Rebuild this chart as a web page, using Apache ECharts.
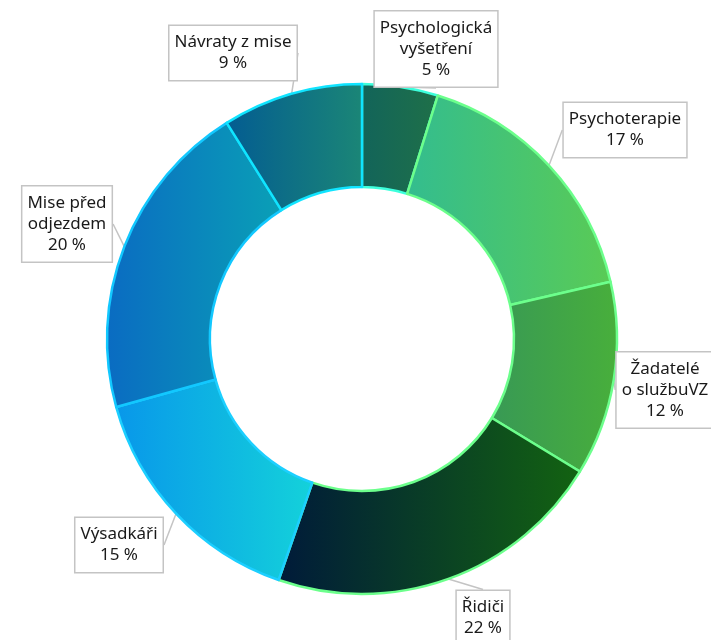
<!DOCTYPE html>
<html>
<head>
<meta charset="utf-8">
<script src="https://cdn.jsdelivr.net/npm/echarts@6/dist/echarts.min.js"></script>
<style>
  html, body { margin: 0; padding: 0; background: #ffffff; }
  #chart { width: 711px; height: 640px; }
</style>
</head>
<body>
<div id="chart"></div>
<script>
// ---- data (shares in %; labels show rounded values) ----
const categories = ['Psychologická\nvyšetření', 'Psychoterapie', 'Žadatelé\no službuVZ', 'Řidiči', 'Výsadkáři', 'Mise před\nodjezdem', 'Návraty z mise'];
const values = [4.8, 16.6, 12.3, 21.6, 15.4, 20.4, 8.9];

// ---- styles (gradient left -> right, border colour) ----
const gradFrom = ['#12645a', '#33bd8f', '#389955', '#001a3a', '#0897ea', '#0a6bc2', '#035c92'];
const gradTo   = ['#1f7048', '#5acb55', '#48af3b', '#136311', '#14d2da', '#0aa0b6', '#1b8676'];
const borders  = ['#3dffdc', '#6cff8c', '#6cff8c', '#6cff8c', '#1ccfff', '#12c8ff', '#10e4ff'];
// label box centres (layout only)
const labelCentres = [[436, 49], [625, 130], [665, 390], [483, 618], [119, 545], [67, 224], [233, 53]];

const chart = echarts.init(document.getElementById('chart'), null, { renderer: 'canvas' });

const seriesData = categories.map((name, i) => ({
  name: name,
  value: values[i],
  itemStyle: {
    color: new echarts.graphic.LinearGradient(0, 0, 1, 0, [
      { offset: 0, color: gradFrom[i] },
      { offset: 1, color: gradTo[i] }
    ]),
    borderColor: borders[i],
    borderWidth: 2.5
  }
}));

chart.setOption({
  animation: false,
  backgroundColor: '#ffffff',
  series: [{
    type: 'pie',
    center: [362, 339],
    radius: [152, 255],
    startAngle: 90,
    clockwise: true,
    percentPrecision: 0,
    avoidLabelOverlap: false,
    data: seriesData,
    label: {
      show: true,
      position: 'outside',
      formatter: '{b}\n{d} %',
      fontFamily: 'Noto Sans',
      fontSize: 17,
      lineHeight: 21,
      color: '#1a1a1a',
      backgroundColor: '#ffffff',
      borderColor: '#c4c4c4',
      borderWidth: 1.5,
      padding: [6, 5],
      align: 'center'
    },
    labelLine: {
      show: true,
      length: 0,
      length2: 0,
      lineStyle: { color: '#c4c4c4', width: 1.5 }
    },
    labelLayout: function (params) {
      const c = labelCentres[params.dataIndex];
      return { x: c[0], y: c[1], align: 'center', verticalAlign: 'middle', hideOverlap: false };
    },
    emphasis: { disabled: true }
  }]
});
</script>
</body>
</html>
